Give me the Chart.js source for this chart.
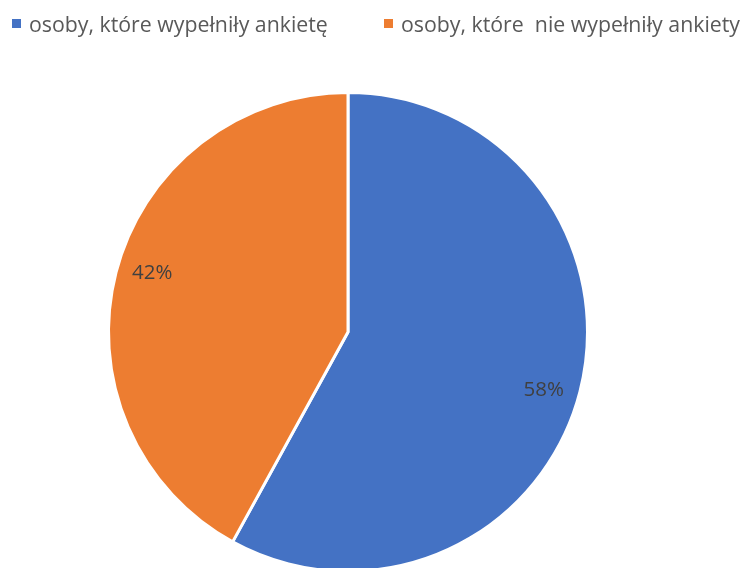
<!DOCTYPE html>
<html>
<head>
<meta charset="utf-8">
<script src="https://cdn.jsdelivr.net/npm/chart.js@4/dist/chart.umd.min.js"></script>
<style>
  html, body { margin: 0; padding: 0; background: #fff; overflow: hidden; }
  #wrap { position: relative; width: 742px; height: 573px; }
  #legend { position: absolute; top: 0; left: 0; width: 742px; height: 50px; font-family: "Open Sans", sans-serif; font-size: 21.3px; color: #595959; }
  .legend-item { position: absolute; top: 9px; display: flex; align-items: center; white-space: pre; }
  .legend-box { width: 9px; height: 9px; margin-right: 8px; }
</style>
</head>
<body>
<div id="wrap">
  <canvas id="pie-chart" width="742" height="573"></canvas>
  <div id="legend"></div>
</div>
<script>
"use strict";
const categories = ["osoby, które wypełniły ankietę", "osoby, które  nie wypełniły ankiety"];
const shareValues = [58, 42];
const sliceColors = ["#4472C4", "#ED7D31"];
const legendLefts = [12, 384];

const legendElement = document.querySelector("#legend");
categories.forEach((label, index) => {
  const item = document.createElement("div");
  item.className = "legend-item";
  item.style.left = legendLefts[index] + "px";
  const box = document.createElement("span");
  box.className = "legend-box";
  box.style.background = sliceColors[index];
  const text = document.createElement("span");
  text.textContent = label;
  item.appendChild(box);
  item.appendChild(text);
  legendElement.appendChild(item);
});

// percentage labels inside the slices
const sliceLabels = {
  id: "sliceLabels",
  afterDatasetsDraw(chart) {
    const ctx = chart.ctx;
    const meta = chart.getDatasetMeta(0);
    const total = shareValues.reduce((a, b) => a + b, 0);
    ctx.save();
    ctx.font = "20.5px 'Open Sans', sans-serif";
    ctx.fillStyle = "#404040";
    ctx.textAlign = "center";
    ctx.textBaseline = "middle";
    meta.data.forEach((arc, index) => {
      const props = arc.getProps(["x", "y", "startAngle", "endAngle", "outerRadius"], true);
      const mid = (props.startAngle + props.endAngle) / 2 + (2.2 * Math.PI) / 180;
      const r = props.outerRadius * 0.853;
      const pct = Math.round((shareValues[index] / total) * 100) + "%";
      ctx.fillText(pct, props.x + Math.cos(mid) * r, props.y + Math.sin(mid) * r);
    });
    ctx.restore();
  },
};

new Chart(document.querySelector("#pie-chart"), {
  type: "pie",
  data: {
    labels: categories,
    datasets: [
      {
        data: shareValues,
        backgroundColor: sliceColors,
        borderColor: "#ffffff",
        borderWidth: 3,
      },
    ],
  },
  options: {
    responsive: false,
    animation: false,
    layout: {
      padding: { top: 91, left: 107, right: 153, bottom: 0 },
    },
    plugins: {
      legend: { display: false },
      tooltip: { enabled: false },
    },
  },
  plugins: [sliceLabels],
});
</script>
</body>
</html>
